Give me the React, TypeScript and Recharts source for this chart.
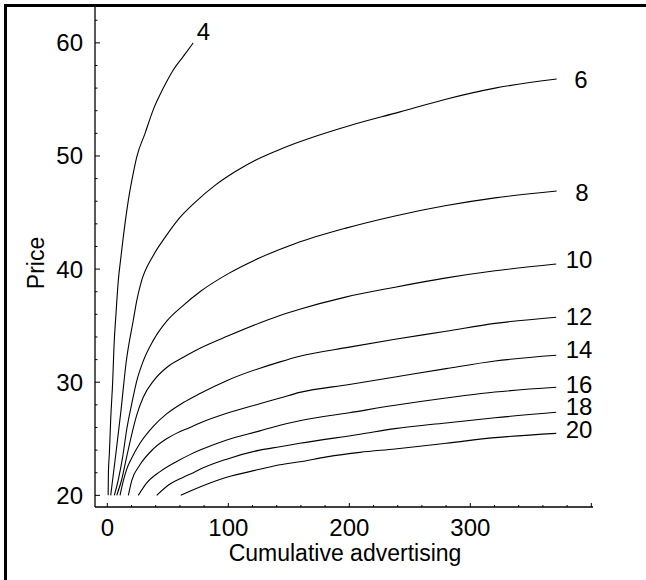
import React from 'react';
import { LineChart, Line, XAxis, YAxis } from 'recharts';

// contour levels and their (cumulative advertising, price) points
const levels = [4, 6, 8, 10, 12, 14, 16, 18, 20];

const level4: [number, number][] = [
  [0.7, 20], [0.9, 22], [1.7, 23.7], [2.8, 26.7], [4.5, 30.2], [5.5, 33.1], [7.2, 36.1],
  [9.1, 39], [11.3, 41.1], [14.6, 44], [17.4, 46.1], [21.5, 48.5], [24.3, 49.9],
  [31.2, 52], [38, 54.1], [46.3, 56], [54.5, 57.6], [62.8, 58.8], [71, 60],
];
const level6: [number, number][] = [
  [2.8, 20], [6.4, 23.1], [11.1, 27.3], [15.5, 31.7], [21.5, 35.5], [24.3, 37.2], [27.6, 38.7],
  [38, 41.2], [47.7, 42.8], [58.7, 44.4], [72.5, 45.9], [89, 47.4], [105.5, 48.6],
  [122, 49.6], [138.6, 50.4], [155, 51.1], [200.6, 52.7], [241.9, 53.9], [279, 55],
  [320.4, 56], [371.4, 56.8],
];
const level8: [number, number][] = [
  [5.8, 20], [9.1, 21.4], [12.7, 23.4], [16, 25.8], [20.2, 28.1], [24.3, 30.1], [29.8, 31.9],
  [38, 33.7], [49.1, 35.4], [62.8, 36.8], [76.6, 38], [100, 39.6], [126, 41],
  [155, 42.25], [196.4, 43.6], [237.8, 44.7], [279, 45.6], [320.4, 46.3], [371.4, 46.9],
];
const level10: [number, number][] = [
  [7.8, 20], [11.9, 21.4], [16, 23.4], [20.2, 25.4], [24.3, 27.1], [29.8, 28.7], [38, 30.1],
  [49.1, 31.3], [62.8, 32.2], [76.6, 33], [100, 34.1], [142.7, 35.9], [159, 36.45],
  [196, 37.5], [237.8, 38.4], [279, 39.2], [320.4, 39.85], [371, 40.45],
];
const level12: [number, number][] = [
  [10.5, 20], [13, 21.2], [16, 22.3], [20.2, 23.3], [27, 24.6], [38, 26.1], [49, 27.2],
  [62.8, 28.2], [76.6, 29], [100, 30.2], [142.7, 31.8], [159, 32.3], [200, 33.1],
  [237.8, 33.8], [280, 34.5], [320.4, 35.2], [371, 35.75],
];
const level14: [number, number][] = [
  [17.4, 20], [20.2, 21.3], [27, 22.7], [38, 24.1], [49, 25], [57.4, 25.5], [68.3, 26],
  [76.6, 26.4], [100, 27.3], [126, 28.1], [142.7, 28.6], [159, 29.1], [200, 29.8],
  [237.8, 30.46], [280, 31.2], [320.4, 31.87], [371, 32.38],
];
const level16: [number, number][] = [
  [25.6, 20], [32.6, 21.1], [43.6, 22.1], [57.4, 23], [68.3, 23.6], [76.6, 24], [98.7, 24.9],
  [126, 25.7], [142.7, 26.2], [159, 26.6], [200, 27.3], [237.8, 27.96], [280, 28.6],
  [320.4, 29.13], [371, 29.55],
];
const level18: [number, number][] = [
  [40.8, 20], [51.8, 21], [62.8, 21.6], [71.1, 22], [76.6, 22.3], [98.7, 23.2], [126, 24],
  [142.7, 24.3], [159, 24.6], [208.8, 25.4], [237.8, 25.9], [280, 26.4], [320.4, 26.86],
  [371, 27.34],
];
const level20: [number, number][] = [
  [60.7, 20], [71.1, 20.5], [84.9, 21.1], [98.7, 21.6], [126, 22.3], [142.7, 22.7],
  [159, 22.97], [181.3, 23.4], [208.8, 23.8], [237.8, 24.1], [280, 24.6], [320.4, 25.1],
  [371, 25.48],
];

const contours = [level4, level6, level8, level10, level12, level14, level16, level18, level20];

const advertisingTicks = [0, 20, 40, 60, 80, 100, 120, 140, 160, 180, 200, 220, 240, 260, 280, 300, 320, 340, 360, 380, 400];
const advertisingLabels = [0, 100, 200, 300];
const priceTicks = [20, 22, 24, 26, 28, 30, 32, 34, 36, 38, 40, 42, 44, 46, 48, 50, 52, 54, 56, 58, 60, 62];
const priceLabels = [20, 30, 40, 50, 60];

const FONT = '"Liberation Sans", Arial, Helvetica, sans-serif';

// plot box edges in pixels
const PLOT_LEFT = 95;
const PLOT_RIGHT = 593;
const PLOT_TOP = 7;
const PLOT_BOTTOM = 507;

// label offsets from the end of each contour [dx, dy]
const labelOffset: Record<number, [number, number]> = {
  4: [3.5, -3], 6: [17.5, 9], 8: [18.5, 10], 10: [9.5, 4], 12: [9.5, 8],
  14: [9.5, 3], 16: [9.5, 5.5], 18: [9.5, 3], 20: [9.5, 5],
};

const BottomTick = ({ x, payload }: any) => {
  const v = payload.value;
  const major = v % 100 === 0;
  return (
    <g>
      <line x1={x} x2={x} y1={PLOT_BOTTOM} y2={PLOT_BOTTOM - (major ? 4 : 2)} stroke="#000" />
      {advertisingLabels.includes(v) && (
        <text x={x} y={PLOT_BOTTOM + 29} textAnchor="middle" fontSize={24} fontFamily={FONT} fill="#000">
          {v}
        </text>
      )}
    </g>
  );
};

const TopTick = ({ x, payload }: any) => {
  const major = payload.value % 100 === 0;
  return <line x1={x} x2={x} y1={PLOT_TOP} y2={PLOT_TOP + (major ? 4 : 2)} stroke="#000" />;
};

const LeftTick = ({ y, payload }: any) => {
  const v = payload.value;
  const major = v % 10 === 0;
  return (
    <g>
      <line x1={PLOT_LEFT} x2={PLOT_LEFT + (major ? 5 : 2.5)} y1={y} y2={y} stroke="#000" />
      {priceLabels.includes(v) && (
        <text x={PLOT_LEFT - 12} y={y + 8.5} textAnchor="end" fontSize={24} fontFamily={FONT} fill="#000">
          {v}
        </text>
      )}
    </g>
  );
};

const RightTick = ({ y, payload }: any) => {
  const major = payload.value % 10 === 0;
  return <line x1={PLOT_RIGHT} x2={PLOT_RIGHT - (major ? 3 : 2)} y1={y} y2={y} stroke="#000" />;
};

export default function App() {
  const xDomain: [number, number] = [-10.17, 401.4];
  const yDomain: [number, number] = [18.97, 63.17];

  return (
    <div style={{ position: 'absolute', left: 0, top: 0, width: 646, height: 580, overflow: 'hidden', background: '#fff' }}>
      <div
        style={{
          position: 'absolute', left: 4, top: 4, width: 800, height: 800,
          borderLeft: '3px solid #000', borderTop: '3px solid #000',
        }}
      />
      <div style={{ position: 'absolute', left: 0, top: 0 }}>
        <LineChart width={646} height={580} margin={{ top: PLOT_TOP, right: 646 - PLOT_RIGHT, bottom: 0, left: 0 }}>
          <XAxis
            type="number"
            dataKey="a"
            domain={xDomain}
            allowDataOverflow
            ticks={advertisingTicks}
            interval={0}
            height={580 - PLOT_BOTTOM}
            tickSize={0}
            tickMargin={0}
            tickLine={false}
            axisLine={{ stroke: '#000', strokeWidth: 1.3 }}
            tick={<BottomTick />}
          />
          <XAxis
            xAxisId="top"
            orientation="top"
            type="number"
            dataKey="a"
            domain={xDomain}
            allowDataOverflow
            ticks={advertisingTicks}
            interval={0}
            height={0}
            tickSize={0}
            tickMargin={0}
            tickLine={false}
            axisLine={{ stroke: '#000', strokeWidth: 1.3 }}
            tick={<TopTick />}
          />
          <YAxis
            type="number"
            domain={yDomain}
            allowDataOverflow
            ticks={priceTicks}
            interval={0}
            width={PLOT_LEFT}
            tickSize={0}
            tickMargin={0}
            tickLine={false}
            axisLine={{ stroke: '#000', strokeWidth: 1.3 }}
            tick={<LeftTick />}
          />
          <YAxis
            yAxisId="right"
            orientation="right"
            type="number"
            domain={yDomain}
            allowDataOverflow
            ticks={priceTicks}
            interval={0}
            width={0}
            tickSize={0}
            tickMargin={0}
            tickLine={false}
            axisLine={{ stroke: '#000', strokeWidth: 1.3 }}
            tick={<RightTick />}
          />
          {contours.map((pts, i) => {
            const level = levels[i];
            const data = pts.map(([a, p]) => ({ a, p }));
            const [dx, dy] = labelOffset[level];
            return (
              <Line
                key={level}
                data={data}
                dataKey="p"
                type="monotone"
                stroke="#000"
                strokeWidth={1.1}
                dot={false}
                isAnimationActive={false}
                label={(props: any) =>
                  props.index === data.length - 1 ? (
                    <text
                      key={`lab-${level}`}
                      x={props.x + dx}
                      y={props.y + dy}
                      fontSize={24}
                      fontFamily={FONT}
                      fill="#000"
                    >
                      {level}
                    </text>
                  ) : (
                    <g key={`lab-${level}-${props.index}`} />
                  )
                }
              />
            );
          })}
        </LineChart>
      </div>
      <svg width={646} height={580} style={{ position: 'absolute', left: 0, top: 0, pointerEvents: 'none' }}>
        <text x={345} y={561} textAnchor="middle" fontSize={23} fontFamily={FONT} fill="#000">
          Cumulative advertising
        </text>
        <text
          x={44}
          y={263}
          textAnchor="middle"
          fontSize={23}
          fontFamily={FONT}
          fill="#000"
          transform="rotate(-90 44 263)"
        >
          Price
        </text>
      </svg>
    </div>
  );
}
